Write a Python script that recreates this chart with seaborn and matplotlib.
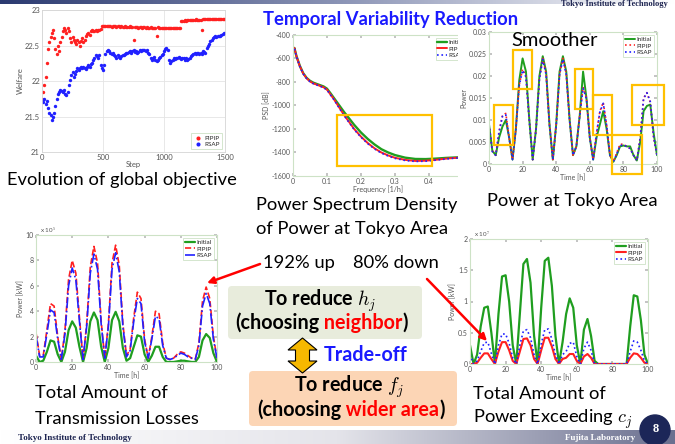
import matplotlib
matplotlib.use("Agg")
import matplotlib.pyplot as plt
import numpy as np
import seaborn as sns
from matplotlib.colors import LinearSegmentedColormap
from matplotlib.patches import Circle, FancyBboxPatch, Polygon, Rectangle

W, H = 675, 444
GREEN, RED, BLUE = "#1f9e1f", "#ff2020", "#2020ff"
GOLD = "#ffc000"

# ---- evolution of global objective (welfare every 10 steps) ----
welfare_steps = list(range(0, 1501, 10))
welfare_pipip = [
    21.75, 21.85, 21.95, 22.05, 22.25, 22.45, 22.55, 22.62, 22.68, 22.72,
    22.60, 22.45, 22.38, 22.50, 22.42, 22.55, 22.62, 22.70, 22.74, 22.72,
    22.68, 22.75, 22.70, 22.60, 22.55, 22.62, 22.58, 22.55, 22.52, 22.58,
    22.55, 22.50, 22.56, 22.60, 22.55, 22.58, 22.63, 22.66, 22.68, 22.65,
    22.70, 22.72, 22.70, 22.71, 22.72, 22.70, 22.72, 22.72, 22.73, 22.77,
    22.77, 22.78, 22.77, 22.77, 22.78, 22.77, 22.77, 22.76, 22.77, 22.77,
    22.77, 22.76, 22.77, 22.77, 22.76, 22.77, 22.76, 22.76, 22.77, 22.76,
    22.76, 22.76, 22.77, 22.76, 22.76, 22.58, 22.76, 22.76, 22.76, 22.75,
    22.76, 22.76, 22.75, 22.76, 22.76, 22.75, 22.76, 22.75, 22.75, 22.76,
    22.75, 22.75, 22.75, 22.75, 22.63, 22.76, 22.75, 22.75, 22.75, 22.75,
    22.75, 22.75, 22.74, 22.75, 22.75, 22.74, 22.75, 22.74, 22.74, 22.75,
    22.74, 22.74, 22.74, 22.74, 22.85, 22.85, 22.85, 22.86, 22.85, 22.86,
    22.86, 22.86, 22.86, 22.86, 22.86, 22.86, 22.87, 22.86, 22.86, 22.86,
    22.86, 22.72, 22.87, 22.87, 22.87, 22.87, 22.87, 22.87, 22.87, 22.87,
    22.87, 22.88, 22.87, 22.87, 22.88, 22.88, 22.87, 22.88, 22.88, 22.88,
    22.88,
]
welfare_rsap = [
    21.72, 21.70, 21.74, 21.68, 21.72, 21.62, 21.55, 21.52, 21.45, 21.50,
    21.55, 21.65, 21.75, 21.82, 21.85, 21.88, 21.86, 21.84, 21.88, 21.82,
    21.80, 21.85, 21.95, 22.02, 22.08, 22.12, 22.05, 22.10, 22.14, 22.18,
    22.16, 22.19, 22.20, 22.18, 22.20, 22.19, 22.17, 22.20, 22.22, 22.20,
    22.24, 22.26, 22.30, 22.33, 22.36, 22.35, 22.32, 22.36, 22.22, 22.18,
    22.16, 22.22, 22.38, 22.42, 22.44, 22.42, 22.40, 22.38, 22.40, 22.36,
    22.35, 22.33, 22.36, 22.34, 22.32, 22.35, 22.37, 22.36, 22.38, 22.40,
    22.39, 22.41, 22.42, 22.40, 22.42, 22.43, 22.41, 22.42, 22.40, 22.41,
    22.43, 22.42, 22.44, 22.43, 22.44, 22.42, 22.43, 22.40, 22.38, 22.33,
    22.30, 22.32, 22.34, 22.30, 22.28, 22.30, 22.32, 22.34, 22.36, 22.38,
    22.42, 22.45, 22.47, 22.44, 22.30, 22.26, 22.28, 22.30, 22.32, 22.31,
    22.33, 22.32, 22.34, 22.32, 22.31, 22.33, 22.32, 22.30, 22.32, 22.30,
    22.31, 22.33, 22.35, 22.36, 22.38, 22.39, 22.38, 22.40, 22.39, 22.38,
    22.40, 22.38, 22.42, 22.41, 22.40, 22.46, 22.50, 22.52, 22.56, 22.58,
    22.60, 22.62, 22.63, 22.62, 22.64, 22.63, 22.64, 22.65, 22.66, 22.67,
    22.68,
]

# ---- power spectrum density ----
psd_freq = [0, 0.004, 0.01, 0.02, 0.03, 0.04, 0.05, 0.06, 0.075, 0.09, 0.10,
            0.11, 0.12, 0.13, 0.14, 0.15, 0.165, 0.18, 0.20, 0.22, 0.24, 0.26,
            0.28, 0.30, 0.33, 0.36, 0.39, 0.42, 0.45, 0.48, 0.50]
psd_initial = [-540, -510, -578, -662, -725, -765, -790, -806, -822, -838, -857,
               -895, -935, -975, -1015, -1055, -1110, -1165, -1230, -1285, -1332,
               -1372, -1400, -1422, -1444, -1455, -1456, -1452, -1446, -1442, -1440]
psd_pipip = [-540, -510, -580, -665, -728, -768, -795, -812, -828, -845, -865,
             -905, -945, -990, -1035, -1080, -1140, -1200, -1265, -1320, -1365,
             -1400, -1425, -1445, -1463, -1472, -1470, -1462, -1452, -1445, -1442]
psd_rsap = [-542, -512, -582, -667, -730, -770, -797, -815, -831, -848, -868,
            -909, -949, -994, -1040, -1085, -1145, -1205, -1270, -1325, -1370,
            -1405, -1430, -1450, -1468, -1476, -1474, -1465, -1455, -1447, -1444]

# ---- hourly series, every 2 h ----
hours = list(range(0, 101, 2))
tokyo_initial = [
    0.0090, 0.0030, 0.0020, 0.0060, 0.0085, 0.0100, 0.0060, 0.0010, 0.0080, 0.0190,
    0.0240, 0.0210, 0.0100, 0.0010, 0.0080, 0.0200, 0.0245, 0.0210, 0.0090, 0.0010,
    0.0090, 0.0210, 0.0245, 0.0210, 0.0100, 0.0020, 0.0040, 0.0110, 0.0210, 0.0150,
    0.0060, 0.0010, 0.0060, 0.0090, 0.0120, 0.0080, 0.0020, 0.0005, 0.0020, 0.0040,
    0.0042, 0.0040, 0.0040, 0.0020, 0.0008, 0.0050, 0.0120, 0.0132, 0.0135, 0.0070,
    0.0020,
]
tokyo_pipip = [
    0.0090, 0.0030, 0.0020, 0.0075, 0.0110, 0.0115, 0.0060, 0.0010, 0.0080, 0.0180,
    0.0215, 0.0200, 0.0100, 0.0010, 0.0080, 0.0195, 0.0240, 0.0205, 0.0090, 0.0010,
    0.0090, 0.0205, 0.0240, 0.0205, 0.0100, 0.0020, 0.0040, 0.0110, 0.0175, 0.0150,
    0.0060, 0.0010, 0.0070, 0.0120, 0.0140, 0.0090, 0.0020, 0.0005, 0.0025, 0.0045,
    0.0045, 0.0040, 0.0035, 0.0020, 0.0008, 0.0060, 0.0150, 0.0162, 0.0140, 0.0060,
    0.0020,
]
tokyo_rsap = [
    0.0090, 0.0028, 0.0020, 0.0072, 0.0108, 0.0112, 0.0058, 0.0010, 0.0078, 0.0178,
    0.0213, 0.0198, 0.0098, 0.0010, 0.0078, 0.0193, 0.0238, 0.0203, 0.0088, 0.0010,
    0.0088, 0.0203, 0.0238, 0.0203, 0.0098, 0.0020, 0.0040, 0.0108, 0.0172, 0.0148,
    0.0058, 0.0010, 0.0068, 0.0118, 0.0138, 0.0088, 0.0020, 0.0005, 0.0022, 0.0042,
    0.0043, 0.0040, 0.0035, 0.0020, 0.0008, 0.0058, 0.0148, 0.0162, 0.0142, 0.0062,
    0.0020,
]

# transmission losses, x 10^5 kW
loss_initial = [
    0.5, 0.0, 0.1, 0.8, 1.7, 1.6, 0.6, 0.0, 0.8, 2.5,
    3.2, 2.7, 1.2, 0.0, 1.1, 3.2, 3.9, 3.3, 1.2, 0.0,
    1.1, 3.3, 3.95, 3.2, 1.1, 0.1, 0.3, 1.2, 2.1, 2.0,
    0.6, 0.0, 0.5, 1.2, 1.2, 0.4, 0.0, 0.0, 0.0, 0.05,
    0.1, 0.1, 0.05, 0.0, 0.0, 0.4, 1.7, 2.2, 1.9, 0.7,
    0.0,
]
loss_pipip = [
    2.3, 0.5, 0.5, 2.5, 4.6, 4.4, 2.0, 0.2, 2.5, 6.5,
    8.0, 7.0, 3.5, 0.2, 3.0, 7.5, 9.1, 7.8, 3.2, 0.3,
    3.0, 7.8, 9.2, 7.6, 3.0, 0.5, 1.0, 3.5, 5.5, 5.0,
    1.8, 0.3, 2.0, 4.0, 3.8, 1.5, 0.3, 0.2, 0.3, 0.6,
    0.8, 0.7, 0.5, 0.3, 0.2, 1.5, 4.8, 5.9, 5.0, 2.0,
    0.3,
]
loss_rsap = [
    2.1, 0.4, 0.4, 2.2, 4.1, 3.9, 1.8, 0.2, 2.2, 6.0,
    7.4, 6.5, 3.2, 0.2, 2.8, 7.0, 8.5, 7.3, 3.0, 0.3,
    2.8, 7.3, 8.6, 7.1, 2.8, 0.4, 0.9, 3.2, 5.0, 4.6,
    1.6, 0.3, 1.8, 3.6, 3.4, 1.3, 0.3, 0.2, 0.3, 0.5,
    0.7, 0.6, 0.4, 0.3, 0.2, 1.3, 4.4, 5.4, 4.6, 1.8,
    0.3,
]

# power exceeding capacity, x 10^7 kW
exceed_initial = [
    0.3, 0.0, 0.15, 0.6, 0.9, 0.92, 0.5, 0.0, 0.8, 1.4,
    1.42, 1.0, 0.3, 0.0, 0.8, 1.6, 1.68, 1.3, 0.45, 0.0,
    0.9, 1.65, 1.7, 1.25, 0.45, 0.0, 0.35, 0.8, 1.05, 0.9,
    0.3, 0.0, 0.55, 0.72, 0.45, 0.05, 0.0, 0.0, 0.0, 0.0,
    0.0, 0.0, 0.0, 0.0, 0.0, 0.6, 1.1, 1.08, 0.7, 0.15,
    0.0,
]
exceed_pipip = [
    0.0, 0.0, 0.02, 0.1, 0.17, 0.17, 0.08, 0.0, 0.2, 0.35,
    0.35, 0.22, 0.05, 0.0, 0.2, 0.4, 0.41, 0.3, 0.08, 0.0,
    0.22, 0.42, 0.42, 0.28, 0.08, 0.0, 0.08, 0.1, 0.16, 0.16,
    0.05, 0.0, 0.12, 0.16, 0.1, 0.0, 0.0, 0.0, 0.0, 0.0,
    0.0, 0.0, 0.0, 0.0, 0.0, 0.1, 0.17, 0.16, 0.1, 0.02,
    0.0,
]
exceed_rsap = [
    0.15, 0.0, 0.05, 0.2, 0.34, 0.35, 0.17, 0.0, 0.3, 0.48,
    0.48, 0.33, 0.1, 0.0, 0.3, 0.53, 0.55, 0.42, 0.15, 0.0,
    0.32, 0.55, 0.56, 0.4, 0.15, 0.0, 0.15, 0.2, 0.33, 0.35,
    0.12, 0.0, 0.25, 0.35, 0.22, 0.0, 0.0, 0.0, 0.0, 0.0,
    0.0, 0.0, 0.0, 0.0, 0.0, 0.2, 0.37, 0.35, 0.22, 0.05,
    0.0,
]

# highlighted regions on the Tokyo power plot: (t0, t1, p0, p1)
smooth_boxes = [(3, 14.3, 0.0043, 0.0134), (14.3, 25.6, 0.0170, 0.0260),
                (51, 62, 0.0125, 0.0216), (62, 73.2, 0.0066, 0.0157),
                (73.2, 91, -0.0023, 0.0066), (85, 104, 0.0088, 0.0180)]

sns.set_theme(style="white")
plt.rcParams["font.family"] = ["Lato", "DejaVu Sans"]
plt.rcParams["mathtext.fontset"] = "cm"
plt.rcParams["axes.unicode_minus"] = False

fig = plt.figure(figsize=(W / 100, H / 100), dpi=100)


def px_axes(left, top, right, bottom, **kw):
    return fig.add_axes([left / W, 1 - bottom / H, (right - left) / W,
                         (bottom - top) / H], **kw)


def matlab_axes(ax, xlabel, ylabel):
    ax.set_xlabel(xlabel, fontsize=5, color="#555555", labelpad=0.5)
    ax.set_ylabel(ylabel, fontsize=5, color="#555555", labelpad=1)
    ax.tick_params(labelsize=5, labelcolor="#555555", color="#bbbbbb", length=2,
                   direction="in", pad=1.5, bottom=True, left=True, top=True, right=True)
    for sp in ax.spines.values():
        sp.set_color("#cde2c6")
        sp.set_linewidth(0.8)


def small_legend(ax, **kw):
    leg = ax.legend(fontsize=4.5, handlelength=1.5, handletextpad=0.3, borderpad=0.3,
                    labelspacing=0.15, frameon=True, fancybox=False,
                    edgecolor="#cde2c6", framealpha=1, **kw)
    leg.get_frame().set_linewidth(0.6)
    return leg


# panel 1: evolution of global objective
ax1 = px_axes(42, 10, 225, 152)
sns.scatterplot(x=welfare_steps, y=welfare_pipip, color=RED, s=6, linewidth=0,
                label="PIPIP", ax=ax1)
sns.scatterplot(x=welfare_steps, y=welfare_rsap, color=BLUE, s=6, linewidth=0,
                label="RSAP", ax=ax1)
ax1.set_xlim(0, 1500)
ax1.set_ylim(21, 23)
ax1.set_xticks([0, 500, 1000, 1500])
ax1.set_yticks([21, 21.5, 22, 22.5, 23])
ax1.set_yticklabels(["21", "21.5", "22", "22.5", "23"])
ax1.grid(True, color="#e4e4e4", lw=0.6)
ax1.set_xlabel("Step", fontsize=5.5, color="#555555", labelpad=0)
ax1.set_ylabel("Welfare", fontsize=5.5, color="#555555", labelpad=1)
ax1.tick_params(labelsize=5.5, labelcolor="#555555", length=0, pad=1.5)
for sp in ax1.spines.values():
    sp.set_color("#d5d5d5")
    sp.set_linewidth(0.6)
small_legend(ax1, loc="lower right", markerscale=1.2)

# panel 2: power spectrum density
ax2 = px_axes(293, 35, 463, 176, zorder=1)
sns.lineplot(x=psd_freq, y=psd_initial, color=GREEN, lw=1.7, label="Initial", ax=ax2)
sns.lineplot(x=psd_freq, y=psd_pipip, color=RED, lw=1.4, label="PIPIP", ax=ax2)
sns.lineplot(x=psd_freq, y=psd_rsap, color=BLUE, lw=1.2, ls=":", label="RSAP", ax=ax2)
ax2.set_xlim(0, 0.5)
ax2.set_ylim(-1600, -400)
ax2.set_xticks([0, 0.1, 0.2, 0.3, 0.4])
ax2.set_xticklabels(["0", "0.1", "0.2", "0.3", "0.4"])
ax2.set_yticks(range(-1600, -399, 200))
matlab_axes(ax2, "Frequency [1/h]", "PSD [dB]")
small_legend(ax2, loc="upper left", bbox_to_anchor=(0.82, 1.0))
ax2.add_patch(Rectangle((0.13, -1515), 0.28, 435, fill=False, ec=GOLD, lw=1.6,
                        clip_on=False, zorder=5))

# panel 3: power at Tokyo area (drawn over the right part of the PSD panel)
ax3 = px_axes(489, 32, 657, 164, zorder=2)
ax3.add_patch(Rectangle((458 / W, 1 - 190 / H), (W - 458) / W, 162 / H,
                        transform=fig.transFigure, fc="white", ec="none",
                        clip_on=False, zorder=0))
sns.lineplot(x=hours, y=tokyo_initial, color=GREEN, lw=1.4, label="Initial", ax=ax3)
sns.lineplot(x=hours, y=tokyo_pipip, color=RED, lw=1.2, ls=":", label="PIPIP", ax=ax3)
sns.lineplot(x=hours, y=tokyo_rsap, color=BLUE, lw=1.2, ls=":", label="RSAP", ax=ax3)
ax3.set_xlim(0, 100)
ax3.set_ylim(0, 0.03)
ax3.set_xticks(range(0, 101, 20))
ax3.set_yticks([0, 0.005, 0.01, 0.015, 0.02, 0.025, 0.03])
ax3.set_yticklabels(["0", "0.005", "0.01", "0.015", "0.02", "0.025", "0.03"])
matlab_axes(ax3, "Time [h]", "Power")
small_legend(ax3, loc="upper right")
for t0, t1, p0, p1 in smooth_boxes:
    ax3.add_patch(Rectangle((t0, p0), t1 - t0, p1 - p0, fill=False, ec=GOLD,
                            lw=1.6, clip_on=False, zorder=5))

# panel 4: transmission losses
ax4 = px_axes(36, 235, 217, 362)
sns.lineplot(x=hours, y=loss_initial, color=GREEN, lw=1.6, label="Initial", ax=ax4)
sns.lineplot(x=hours, y=loss_pipip, color=RED, lw=1.2, ls="--", label="PIPIP", ax=ax4)
sns.lineplot(x=hours, y=loss_rsap, color=BLUE, lw=1.2, ls="-.", label="RSAP", ax=ax4)
ax4.set_xlim(0, 100)
ax4.set_ylim(0, 10)
ax4.set_xticks(range(0, 101, 20))
ax4.set_yticks(range(0, 11, 2))
matlab_axes(ax4, "Time [h]", "Power [kW]")
ax4.text(0.02, 1.0, "x 10$^5$", transform=ax4.transAxes, fontsize=4.5,
         color="#555555", va="bottom")
small_legend(ax4, loc="upper right")

# panel 5: power exceeding capacity
ax5 = px_axes(470, 239, 648, 364)
sns.lineplot(x=hours, y=exceed_initial, color=GREEN, lw=1.6, label="Initial", ax=ax5)
sns.lineplot(x=hours, y=exceed_pipip, color=RED, lw=1.5, label="PIPIP", ax=ax5)
sns.lineplot(x=hours, y=exceed_rsap, color=BLUE, lw=1.2, ls=":", label="RSAP", ax=ax5)
ax5.set_xlim(0, 100)
ax5.set_ylim(0, 2)
ax5.set_xticks(range(0, 101, 20))
ax5.set_yticks([0, 0.5, 1, 1.5, 2])
ax5.set_yticklabels(["0", "0.5", "1", "1.5", "2"])
matlab_axes(ax5, "Time [h]", "Power [kW]")
ax5.text(0.02, 1.0, "x 10$^7$", transform=ax5.transAxes, fontsize=4.5,
         color="#555555", va="bottom")
small_legend(ax5, loc="upper right")

# overlay in pixel coordinates for the slide decorations
ov = fig.add_axes([0, 0, 1, 1], zorder=10)
ov.patch.set_visible(False)
ov.axis("off")

top_cmap = LinearSegmentedColormap.from_list("top", ["#2b3a70", "#8a93b5", "#ffffff"])
bot_cmap = LinearSegmentedColormap.from_list("bot", ["#ffffff", "#e4e4ea", "#6b7090"])
grad = np.linspace(0, 1, 256)[None, :]
ov.imshow(grad, cmap=top_cmap, extent=(0, W, 4, 0), aspect="auto", zorder=0)
ov.imshow(grad, cmap=bot_cmap, extent=(0, W, H, 430), aspect="auto", zorder=0)
ov.set_xlim(0, W)
ov.set_ylim(H, 0)

serif = ["Liberation Serif", "DejaVu Serif"]
ov.text(668, 0.5, "Tokyo Institute of Technology", ha="right", va="top",
        fontsize=6, family=serif, weight="bold", color="#1c2350")
ov.text(18, 438, "Tokyo Institute of Technology", ha="left", va="center",
        fontsize=6.5, family=serif, weight="bold", color="#1c2350")
ov.text(565, 438, "Fujita Laboratory", ha="left", va="center",
        fontsize=6.5, family=serif, weight="bold", color="white")
ov.add_patch(Circle((655, 430), 15, color="#1c2658", zorder=3))
ov.text(656, 429, "8", ha="center", va="center", fontsize=9, family=serif,
        weight="bold", color="white", zorder=4)

ov.text(263, 20, "Temporal Variability Reduction", ha="left", va="center",
        fontsize=13.2, weight="bold", color="#1a1aff")
ov.text(511, 40, "Smoother", ha="left", va="center", fontsize=14.5, color="black")

cap = dict(ha="left", va="center", fontsize=13.2, color="black")
ov.text(7, 180, "Evolution of global objective", **cap)
ov.text(256, 205, "Power Spectrum Density", **cap)
ov.text(256, 229, "of Power at Tokyo Area", **cap)
ov.text(487, 201, "Power at Tokyo Area", **cap)
ov.text(35, 393, "Total Amount of", **cap)
ov.text(35, 419, "Transmission Losses", **cap)
ov.text(473, 394, "Total Amount of", **cap)
ov.text(473, 419, "Power Exceeding $c_j$", **cap)
ov.text(263, 263, "192% up", **cap)
ov.text(353, 263, "80% down", **cap)

arrow = dict(arrowstyle="-|>", color="red", lw=1.8, mutation_scale=10,
             shrinkA=0, shrinkB=0)
ov.annotate("", xy=(207, 283), xytext=(260, 264), arrowprops=arrow)
ov.annotate("", xy=(487, 341), xytext=(427, 279), arrowprops=arrow)

ov.add_patch(FancyBboxPatch((228, 286), 194, 53, boxstyle="round,pad=0,rounding_size=4",
                            fc="#e8ecdc", ec="none", zorder=1))
ov.add_patch(FancyBboxPatch((249, 371), 208, 55, boxstyle="round,pad=0,rounding_size=4",
                            fc="#fcd5b5", ec="none", zorder=1))


def rich_line(x, y, parts, **kw):
    t = ov.text(x, y, parts[0][0], color=parts[0][1], ha="left", va="center", **kw)
    for s, c in parts[1:]:
        t = ov.annotate(s, xy=(1, 0.5), xycoords=t, ha="left", va="center", color=c, **kw)
    return t


bold = dict(fontsize=14.2, weight="bold")
ov.text(320, 301, "To reduce $h_j$", ha="center", va="center", color="black", **bold)
rich_line(235, 323, [("(choosing", "black"), (" neighbor", "red"), (")", "black")], **bold)
ov.text(349, 387, "To reduce $f_j$", ha="center", va="center", color="black", **bold)
rich_line(257, 410, [("(choosing", "black"), (" wider area", "red"), (")", "black")], **bold)
ov.text(324, 355, "Trade-off", ha="left", va="center", color="#1a1aff", **bold)

cx = 302.5
ov.add_patch(Polygon([(cx, 338), (cx + 14.5, 350), (cx + 7, 350), (cx + 7, 361),
                      (cx + 14.5, 361), (cx, 373), (cx - 14.5, 361), (cx - 7, 361),
                      (cx - 7, 350), (cx - 14.5, 350)],
                     closed=True, fc="#f6b800", ec="black", lw=0.8, zorder=2))

fig.savefig("out.png", dpi=100)
